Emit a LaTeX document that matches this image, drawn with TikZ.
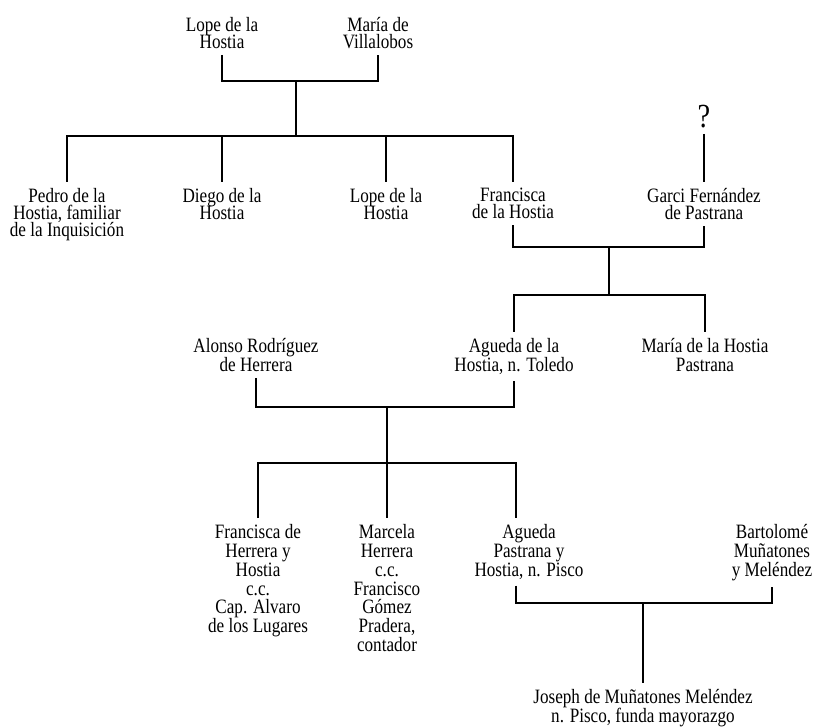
\documentclass[tikz,border=0pt]{standalone}
\usepackage{fontspec}
\setmainfont{Liberation Serif}[FakeStretch=0.84]
\usetikzlibrary{calc}
\lineskiplimit=-20pt

\begin{document}
\begin{tikzpicture}[
    x=0.025cm, y=-0.025cm,
    person/.style={align=center, anchor=north, inner xsep=0pt, inner ysep=4.3pt, font=\fontsize{14.5}{12}\selectfont},
    personlow/.style={person, font=\fontsize{14.5}{13.4}\selectfont},
    query/.style={anchor=south, inner sep=0pt, inner ysep=4.3pt, font=\fontsize{24}{24}\selectfont},
    link/.style={draw=black, line width=1pt}
]
\useasboundingbox (0,0) rectangle (816,728);

% Part 1: Lope de la Hostia & María de Villalobos
\node[person] (lope) at (222,11) {Lope de la\\Hostia};
\node[person] (mariav) at (378,11) {María de\\Villalobos};
\coordinate (u1) at (296,81);
\coordinate (s1) at (296,136);
\draw[link] (lope.south) |- (u1) -| (mariav.south);
\draw[link] (u1) -- (s1);

% Part 2: their children
\node[person] (pedro) at (67,182) {Pedro de la\\Hostia, familiar\\de la Inquisición};
\node[person] (diego) at (222,182) {Diego de la\\Hostia};
\node[person] (lopeh) at (386,182) {Lope de la\\Hostia};
\node[person] (francisca) at (513,182) {Francisca\\de la Hostia};
\node[person] (garci) at (704,182) {Garci Fernández\\de Pastrana};
\node[query] (unknown) at (704,134) {?};
\draw[link] (pedro.north) |- (s1) -| (francisca.north);
\draw[link] (s1) -| (diego.north);
\draw[link] (s1) -| (lopeh.north);
\draw[link] (unknown.south) -- (garci.north);

% Part 3: Francisca de la Hostia & Garci Fernández de Pastrana
\coordinate (u2) at (609,247);
\coordinate (s2) at (609,295);
\draw[link] (francisca.south) |- (u2) -| (garci.south);
\draw[link] (u2) -- (s2);
\node[personlow] (alonso) at (256,332) {Alonso Rodríguez\\de Herrera};
\node[personlow] (agueda) at (514,332) {Agueda de la\\Hostia, n. Toledo};
\node[personlow] (mariah) at (705,332) {María de la Hostia\\Pastrana};
\draw[link] (agueda.north) |- (s2) -| (mariah.north);

% Part 4: Alonso Rodríguez & Agueda de la Hostia
\coordinate (u3) at (387,407);
\coordinate (s3) at (387,463);
\draw[link] (alonso.south) |- (u3) -| (agueda.south);
\node[personlow] (fherrera) at (258,518) {Francisca de\\Herrera y\\Hostia\\c.c.\\Cap. Alvaro\\de los Lugares};
\node[personlow] (marcela) at (387,518) {Marcela\\Herrera\\c.c.\\Francisco\\Gómez\\Pradera,\\contador};
\node[personlow] (aguedap) at (529,518) {Agueda\\Pastrana y\\Hostia, n. Pisco};
\node[personlow] (bartolome) at (772,518) {Bartolomé\\Muñatones\\y Meléndez};
\draw[link] (u3) -- (marcela.north);
\draw[link] (fherrera.north) |- (s3) -| ($(aguedap.north)+(-13,0)$);

% Part 5: Agueda Pastrana & Bartolomé Muñatones
\coordinate (u4) at (643,603);
\draw[link] ($(aguedap.south)+(-13,0)$) |- (u4) -| (bartolome.south);
\node[personlow] (joseph) at (643,683) {Joseph de Muñatones Meléndez\\n. Pisco, funda mayorazgo};
\draw[link] (u4) -- (joseph.north);

\end{tikzpicture}
\end{document}
